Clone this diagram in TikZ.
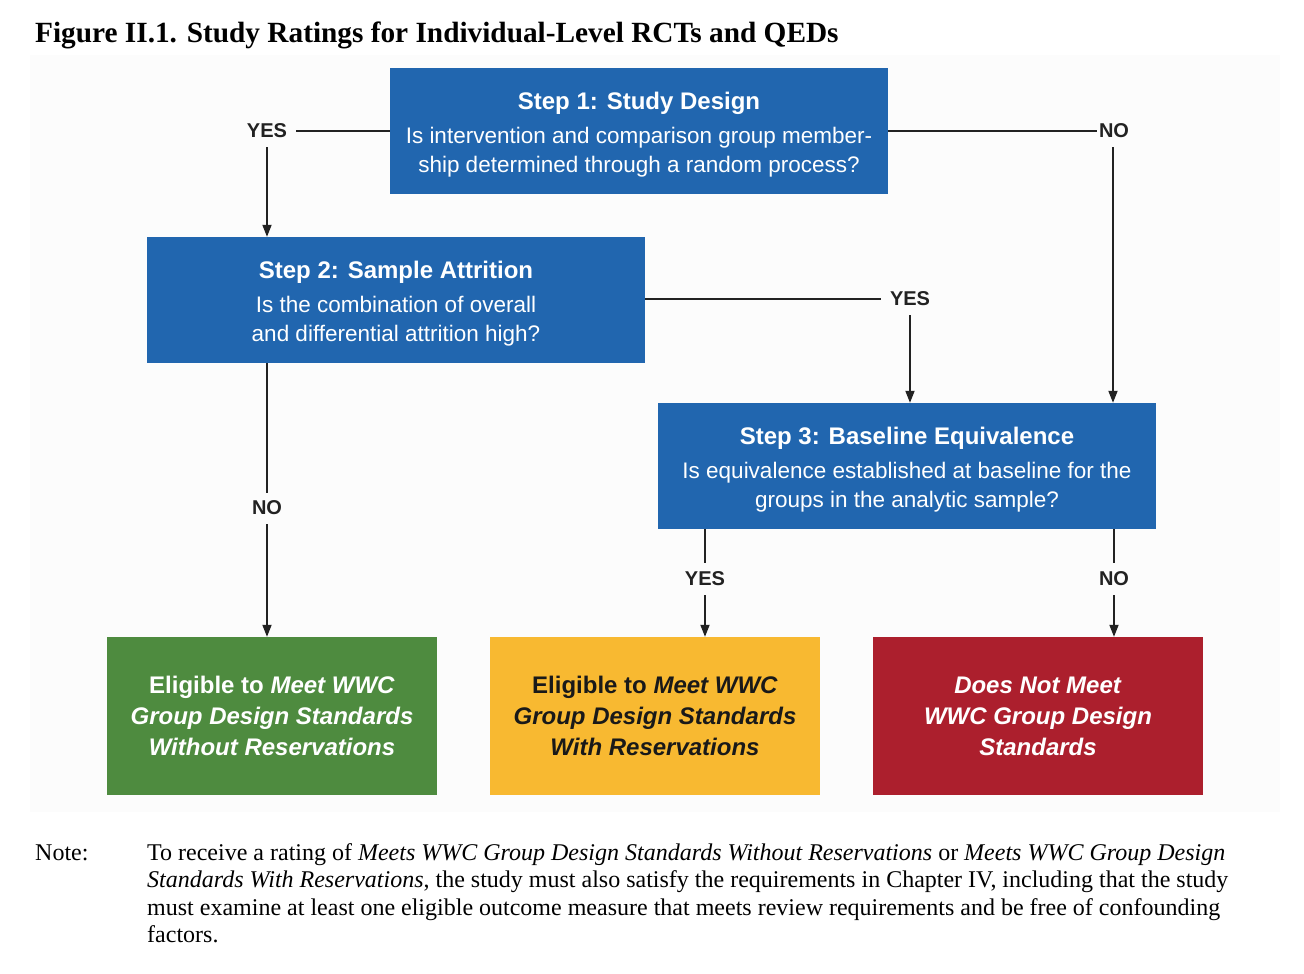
\documentclass[tikz,border=0pt]{standalone}
\usepackage{fontspec}
\setmainfont{Liberation Serif}
\setsansfont{Liberation Sans}
\usetikzlibrary{arrows.meta}
\definecolor{stepblue}{HTML}{2166AF}
\definecolor{okgreen}{HTML}{4E8B3F}
\definecolor{okyellow}{HTML}{F8B931}
\definecolor{badred}{HTML}{AC1F2D}
\definecolor{ink}{HTML}{222222}
\tikzset{
  stepbox/.style={fill=stepblue, draw=none, minimum width=498pt, minimum height=126pt,
    inner sep=0pt, align=center, text=white, font=\sffamily\fontsize{22.5}{29}\selectfont},
  outbox/.style={draw=none, minimum width=330pt, minimum height=158pt, inner sep=0pt,
    align=center, font=\sffamily\bfseries\fontsize{24}{31}\selectfont},
  lbl/.style={inner sep=0pt, font=\sffamily\bfseries\fontsize{20}{22}\selectfont, text=ink},
  conn/.style={draw=ink, line width=1.8pt},
  arr/.style={conn, -{Triangle[length=12pt,width=9pt]}},
  notetext/.style={anchor=base west, inner sep=0pt, font=\fontsize{24}{28}\selectfont}
}
\newcommand{\sttl}[1]{{\rule{0pt}{25pt}\bfseries\fontsize{24}{29}\selectfont #1}\\[5pt]}
\begin{document}
\begin{tikzpicture}[x=1pt,y=-1pt]
\useasboundingbox (0,0) rectangle (1304,974);
\fill[white] (0,0) rectangle (1304,974);
\fill[black!1.2] (30,55) rectangle (1280,812);
% title
\node[anchor=base west, inner sep=0pt, font=\bfseries\fontsize{29.3}{34}\selectfont] (title) at (35,43)
  {Figure II.1. Study Ratings for Individual-Level RCTs and QEDs};
% step boxes
\node[stepbox] (s1) at (639,131) {\sttl{Step 1: Study Design}Is intervention and comparison group member-\\ship determined through a random process?};
\node[stepbox] (s2) at (396,300) {\sttl{Step 2: Sample Attrition}Is the combination of overall\\and differential attrition high?};
\node[stepbox] (s3) at (907,466) {\sttl{Step 3: Baseline Equivalence}Is equivalence established at baseline for the\\groups in the analytic sample?};
% outcome boxes
\node[outbox, fill=okgreen, text=white] (g) at (272,716) {Eligible to \textit{Meet WWC}\\\textit{Group Design Standards}\\\textit{Without Reservations}};
\node[outbox, fill=okyellow, text=black!90] (y) at (655,716) {Eligible to \textit{Meet WWC}\\\textit{Group Design Standards}\\\textit{With Reservations}};
\node[outbox, fill=badred, text=white] (r) at (1038,716) {\textit{Does Not Meet}\\\textit{WWC Group Design}\\\textit{Standards}};
% labels
\node[lbl] (yes1) at (267,131) {YES};
\node[lbl] (no1) at (1114,131) {NO};
\node[lbl] (yes2) at (910,299) {YES};
\node[lbl] (no2) at (267,508) {NO};
\node[lbl] (yes3) at (705,579) {YES};
\node[lbl] (no3) at (1114,579) {NO};
% connectors
\draw[conn] (s1.west |- yes1) -- ([xshift=9pt]yes1.east);
\draw[arr] ([yshift=-9pt]yes1.south) -- (yes1.south |- s2.north);
\draw[conn] (s1.east |- no1) -- ([xshift=-2pt]no1.west);
\draw[arr] ([xshift=-1pt,yshift=-9pt]no1.south) -- ([xshift=-1pt]no1.south |- s3.north);
\draw[conn] (s2.east |- yes2) -- ([xshift=-9pt]yes2.west);
\draw[arr] ([yshift=-9pt]yes2.south) -- (yes2.south |- s3.north);
\draw[conn] (no2 |- s2.south) -- ([yshift=8pt]no2.north);
\draw[arr] ([yshift=-9pt]no2.south) -- (no2.south |- g.north);
\draw[conn] (yes3 |- s3.south) -- ([yshift=9pt]yes3.north);
\draw[arr] ([yshift=-9pt]yes3.south) -- (yes3.south |- y.north);
\draw[conn] (no3 |- s3.south) -- ([yshift=9pt]no3.north);
\draw[arr] ([yshift=-9pt]no3.south) -- (no3.south |- r.north);
% note
\node[notetext] (notelbl) at (35,860) {Note:};
\node[notetext] (n1) at (147,860)
  {To receive a rating of \textit{Meets WWC Group Design Standards Without Reservations} or \textit{Meets WWC Group Design}};
\node[notetext] (n2) at (147,887.5)
  {\textit{Standards With Reservations}, the study must also satisfy the requirements in Chapter IV, including that the study};
\node[notetext] (n3) at (147,915)
  {must examine at least one eligible outcome measure that meets review requirements and be free of confounding};
\node[notetext] (n4) at (147,942.5)
  {factors.};
\end{tikzpicture}
\end{document}
